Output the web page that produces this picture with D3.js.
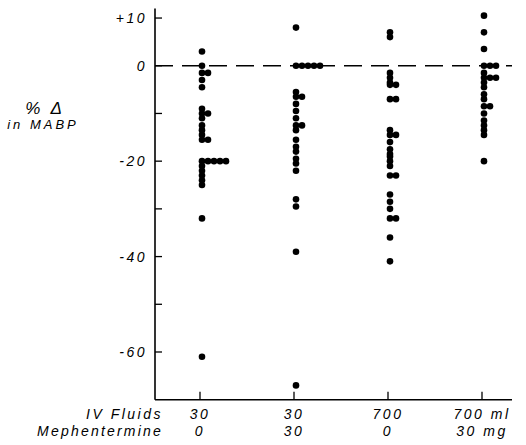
<!DOCTYPE html>
<html>
<head>
<meta charset="utf-8">
<script src="https://cdn.jsdelivr.net/npm/d3@7"></script>
<style>
  body { margin: 0; background: #fff; }
  text { font-family: "Liberation Sans", Arial, sans-serif; font-style: italic; fill: #000; }
</style>
</head>
<body>
<div id="chart"></div>
<script>
// groups along the bottom
let ivFluids = ["30", "30", "700", "700 ml"];
let mephentermine = ["0", "30", "0", "30 mg"];

// % change in MABP, one list per group
let group1 = [3, 0, -1.5, -1.5, -3, -4.5, -9, -10, -10, -11, -12.5, -13.5, -14.5, -15.5, -15.5,
  -20, -20, -20, -20, -20, -21, -22, -23, -24, -25, -32, -61];
let group2 = [8, 0, 0, 0, 0, 0, -5.5, -6.5, -6.5, -8, -9.5, -11, -12.5, -12.5, -13.5, -15.5,
  -17, -18, -19.5, -20.5, -22, -28, -29.5, -39, -67];
let group3 = [7, 6, -1.5, -2.5, -3.5, -4, -4, -7, -7, -13.5, -14.5, -14.5, -16, -17.5, -18.5,
  -19, -20, -21, -23, -23, -27, -28.5, -30, -32, -32, -36, -41];
let group4 = [10.5, 7, 3.5, 0, 0, 0, -1.5, -2.5, -2.5, -2.5, -3.5, -4.5, -6, -7, -8.5, -8.5,
  -10, -11.5, -12.5, -13.5, -14.5, -20];

let yTicks = [10, 0, -10, -20, -30, -40, -50, -60];
let yTickLabels = { "10": "+10", "0": "0", "-20": "-20", "-40": "-40", "-60": "-60" };

let groups = [group1, group2, group3, group4];

let width = 526,
  height = 445;

let svg = d3
  .select("#chart")
  .append("svg")
  .attr("width", width)
  .attr("height", height);

let y = d3.scaleLinear().domain([-70, 12]).range([399.7, 8.5]);
let x = d3.scalePoint().domain([0, 1, 2, 3]).range([200, 482]);

let axisX = 155,
  axisRight = 512;

// y axis line
svg
  .append("line")
  .attr("x1", axisX)
  .attr("x2", axisX)
  .attr("y1", y(12))
  .attr("y2", y(-70))
  .attr("stroke", "black")
  .attr("stroke-width", 1.6);

// x axis line
svg
  .append("line")
  .attr("x1", axisX)
  .attr("x2", axisRight)
  .attr("y1", y(-70))
  .attr("y2", y(-70))
  .attr("stroke", "black")
  .attr("stroke-width", 1.6);

// y ticks (inside)
yTicks.forEach((t) => {
  svg
    .append("line")
    .attr("x1", axisX)
    .attr("x2", axisX + 7)
    .attr("y1", y(t))
    .attr("y2", y(t))
    .attr("stroke", "black")
    .attr("stroke-width", 1.3);
  if (yTickLabels[t] !== undefined) {
    svg
      .append("text")
      .attr("x", axisX - 8)
      .attr("y", y(t) + 5)
      .attr("text-anchor", "end")
      .attr("font-size", 14)
      .attr("letter-spacing", 2.5)
      .text(yTickLabels[t]);
  }
});

// dashed zero line
svg
  .append("line")
  .attr("x1", axisX)
  .attr("x2", axisRight)
  .attr("y1", y(0))
  .attr("y2", y(0))
  .attr("stroke", "black")
  .attr("stroke-width", 1.3)
  .attr("stroke-dasharray", "18,9");

// x ticks and group labels
for (var i = 0; i < groups.length; i++) {
  svg
    .append("line")
    .attr("x1", x(i))
    .attr("x2", x(i))
    .attr("y1", y(-70))
    .attr("y2", y(-70) - 8)
    .attr("stroke", "black")
    .attr("stroke-width", 1.3);

  svg
    .append("text")
    .attr("x", x(i))
    .attr("y", 419)
    .attr("text-anchor", "middle")
    .attr("font-size", 14)
    .attr("letter-spacing", 2.5)
    .text(ivFluids[i]);

  svg
    .append("text")
    .attr("x", x(i))
    .attr("y", 436)
    .attr("text-anchor", "middle")
    .attr("font-size", 14)
    .attr("letter-spacing", 2.5)
    .text(mephentermine[i]);
}

svg
  .append("text")
  .attr("x", 163)
  .attr("y", 419)
  .attr("text-anchor", "end")
  .attr("font-size", 14)
  .attr("letter-spacing", 2.5)
  .text("IV Fluids");

svg
  .append("text")
  .attr("x", 163)
  .attr("y", 436)
  .attr("text-anchor", "end")
  .attr("font-size", 14)
  .attr("letter-spacing", 2.2)
  .text("Mephentermine");

// y axis title
svg
  .append("text")
  .attr("x", 45)
  .attr("y", 114)
  .attr("text-anchor", "middle")
  .attr("font-size", 17)
  .attr("letter-spacing", 3)
  .text("% \u0394");

svg
  .append("text")
  .attr("x", 43)
  .attr("y", 129)
  .attr("text-anchor", "middle")
  .attr("font-size", 13)
  .attr("letter-spacing", 3)
  .text("in MABP");

// dots, equal values placed side by side
groups.forEach((vals, gi) => {
  let seen = {};
  vals.forEach((v) => {
    let k = seen[v] || 0;
    seen[v] = k + 1;
    svg
      .append("circle")
      .attr("cx", x(gi) + 2 + k * 6)
      .attr("cy", y(v))
      .attr("r", 3.3)
      .attr("fill", "black");
  });
});
</script>
</body>
</html>
